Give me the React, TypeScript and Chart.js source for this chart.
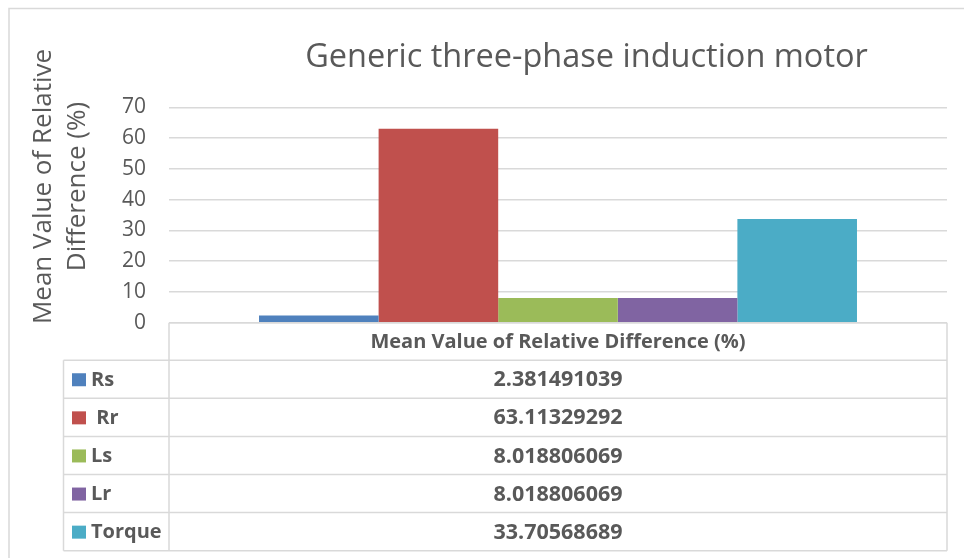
import React, { useEffect, useRef } from 'react';
import { Chart, registerables } from 'chart.js';

Chart.register(...registerables);

const categories = ['Mean Value of Relative Difference (%)'];
const seriesNames = ['Rs', ' Rr', 'Ls', 'Lr', 'Torque'];
const seriesValues = [2.381491039, 63.11329292, 8.018806069, 8.018806069, 33.70568689];
const seriesColors = ['#4F81BD', '#C0504D', '#9BBB59', '#8064A2', '#4BACC6'];
const yTicks = [0, 10, 20, 30, 40, 50, 60, 70];
const chartTitle = 'Generic three-phase induction motor';
const yAxisTitle = ['Mean Value of Relative', 'Difference (%)'];

const TEXT = '#595959';
const LINE = '#D9D9D9';
const W = 964;
const H = 558;

const decorPlugin = {
  id: 'decor',
  beforeDraw(chart: any) {
    const ctx = chart.ctx;
    ctx.save();
    ctx.fillStyle = '#ffffff';
    ctx.fillRect(0, 0, chart.width, chart.height);
    ctx.strokeStyle = LINE;
    ctx.lineWidth = 1.5;
    ctx.beginPath();
    ctx.moveTo(9, H);
    ctx.lineTo(9, 8.5);
    ctx.lineTo(W, 8.5);
    ctx.stroke();
    ctx.restore();
  },
  afterDraw(chart: any) {
    const ctx = chart.ctx;
    const ca = chart.chartArea;
    ctx.save();
    // title
    ctx.fillStyle = TEXT;
    ctx.font = '32.5px "Open Sans"';
    ctx.textAlign = 'center';
    ctx.textBaseline = 'alphabetic';
    ctx.fillText(chartTitle, 586.5, 67);

    // y-axis title
    ctx.save();
    ctx.translate(51, 186.5);
    ctx.rotate(-Math.PI / 2);
    ctx.font = '26px "Open Sans"';
    ctx.textAlign = 'center';
    ctx.textBaseline = 'alphabetic';
    yAxisTitle.forEach((t, i) => ctx.fillText(t, 0, i * 34));
    ctx.restore();

    // data table
    const left = ca.left;
    const right = ca.right;
    const top = ca.bottom;
    const headerH = 37.5;
    const rowH = 38.1;
    const legendLeft = 63.5;
    const n = seriesNames.length;
    const bottom = top + headerH + rowH * n;

    ctx.strokeStyle = LINE;
    ctx.lineWidth = 1.5;
    ctx.beginPath();
    ctx.moveTo(left, top);
    ctx.lineTo(right, top);
    ctx.moveTo(left, top);
    ctx.lineTo(left, bottom);
    ctx.moveTo(right, top);
    ctx.lineTo(right, bottom);
    ctx.moveTo(legendLeft, top + headerH);
    ctx.lineTo(legendLeft, bottom);
    for (let i = 0; i <= n; i++) {
      const y = top + headerH + rowH * i;
      ctx.moveTo(legendLeft, y);
      ctx.lineTo(right, y);
    }
    ctx.stroke();

    const cx = (left + right) / 2;
    ctx.fillStyle = TEXT;
    ctx.textBaseline = 'middle';
    ctx.textAlign = 'center';
    ctx.font = 'bold 20px "Open Sans"';
    ctx.fillText(categories[0], cx, top + headerH / 2 + 1);

    for (let i = 0; i < n; i++) {
      const cy = top + headerH + rowH * i + rowH / 2 + 1;
      ctx.textAlign = 'center';
      ctx.font = 'bold 21.5px "Open Sans"';
      ctx.fillStyle = TEXT;
      ctx.fillText(String(seriesValues[i]), cx, cy);
      ctx.fillStyle = seriesColors[i];
      ctx.fillRect(72, cy - 7, 14, 13);
      ctx.fillStyle = TEXT;
      ctx.textAlign = 'left';
      ctx.font = 'bold 20px "Open Sans"';
      ctx.fillText(seriesNames[i], 91, cy);
    }
    ctx.restore();
  },
};

export default function App() {
  const ref = useRef<HTMLCanvasElement | null>(null);
  useEffect(() => {
    document.body.style.margin = '0';
    const canvas = ref.current!;
    const chart = new Chart(canvas, {
      type: 'bar',
      data: {
        labels: categories,
        datasets: seriesNames.map((name, i) => ({
          label: name,
          data: [seriesValues[i]],
          backgroundColor: seriesColors[i],
          borderWidth: 0,
          categoryPercentage: 0.7686,
          barPercentage: 1,
        })),
      },
      options: {
        responsive: false,
        animation: false,
        devicePixelRatio: 1,
        layout: { padding: { top: 107.5, bottom: 235.3, left: 0, right: 17 } },
        plugins: {
          legend: { display: false },
          title: { display: false },
          tooltip: { enabled: false },
        },
        scales: {
          x: { display: false },
          y: {
            min: 0,
            max: 70,
            afterBuildTicks: (scale: any) => {
              scale.ticks = yTicks.map((v) => ({ value: v }));
            },
            afterFit: (scale: any) => {
              scale.width = 169;
            },
            grid: { color: LINE, lineWidth: 1.5, drawTicks: false },
            border: { display: false },
            ticks: {
              color: TEXT,
              font: { family: 'Open Sans', size: 21 },
              padding: 23,
            },
          },
        },
      },
      plugins: [decorPlugin],
    });
    return () => chart.destroy();
  }, []);
  return <canvas ref={ref} width={W} height={H} style={{ display: 'block', width: W, height: H }} />;
}
